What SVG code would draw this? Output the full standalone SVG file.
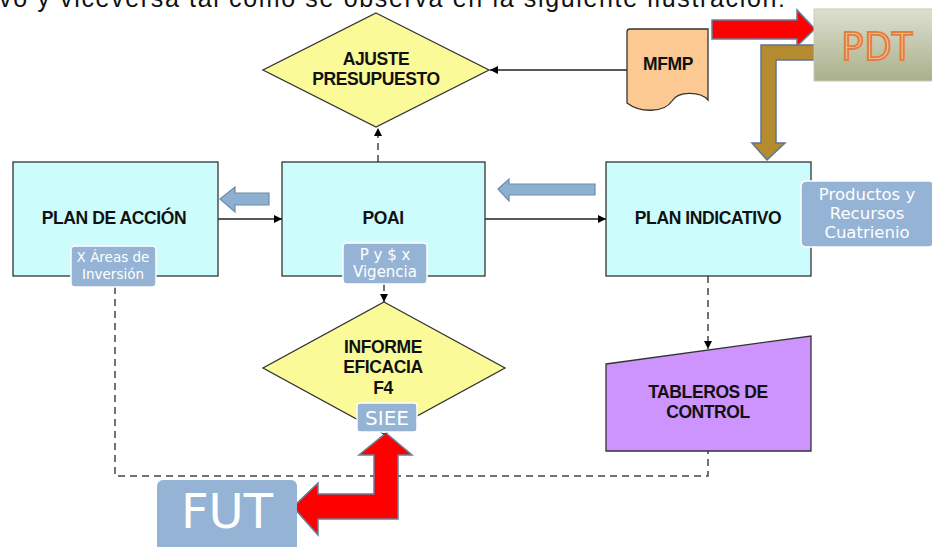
<svg xmlns="http://www.w3.org/2000/svg" width="932" height="547" viewBox="0 0 932 547">
<defs>
<marker id="ah" viewBox="0 0 10 10" refX="10" refY="5" markerWidth="8" markerHeight="8" markerUnits="userSpaceOnUse" orient="auto"><path d="M0,0 L10,5 L0,10 Z" fill="#000"/></marker>
<linearGradient id="pdtg" x1="0" y1="0" x2="0" y2="1"><stop offset="0" stop-color="#dedfd0"/><stop offset="1" stop-color="#a9b08a"/></linearGradient>
</defs>
<style>
.box{fill:#ccfcfc;stroke:#333;stroke-width:1.3}
.dia{fill:#fafa98;stroke:#333;stroke-width:1.3}
.t{font-family:"Liberation Sans",Arial,sans-serif;font-weight:bold;font-size:17.5px;fill:#111;text-anchor:middle;letter-spacing:-0.4px}
.lbl{fill:#95b3d4;stroke:#fff;stroke-width:1.5}
.lt{font-family:"DejaVu Sans","Noto Sans",sans-serif;fill:#fff;text-anchor:middle;font-size:15px}
.lt14{font-size:13.5px}
.lt16{font-size:16.5px}
.lt20{font-size:20px}
.ln{stroke:#222;stroke-width:1.3;fill:none}
.dash{stroke:#444;stroke-width:1.5;fill:none;stroke-dasharray:7,5}
.barrow{fill:#8eb0d0;stroke:#6d8cae;stroke-width:1.2}
</style>
<rect width="932" height="547" fill="#fff"/>
<text x="-1" y="7" font-family="Liberation Sans, Arial, sans-serif" font-size="25" fill="#111" textLength="786" lengthAdjust="spacing">vo y viceversa tal como se observa en la siguiente ilustración:</text>

<g id="connectors">
<line class="ln" x1="627" y1="70" x2="490" y2="70" marker-end="url(#ah)"/>
<line class="dash" x1="378" y1="162" x2="378" y2="128" marker-end="url(#ah)"/>
<line class="ln" x1="218" y1="219" x2="282" y2="219" marker-end="url(#ah)"/>
<line class="ln" x1="485" y1="219" x2="606" y2="219" marker-end="url(#ah)"/>
<line class="dash" x1="384" y1="284" x2="384" y2="302" marker-end="url(#ah)"/>
<line class="dash" x1="708" y1="276" x2="708" y2="349" marker-end="url(#ah)"/>
<polyline class="dash" points="115,287 115,476 708,476 708,451"/>
<path class="barrow" d="M220,199 L235,187 L235,193 L269,193 L269,205 L235,205 L235,212 Z"/>
<path class="barrow" d="M498,189 L509,179 L509,184 L595,184 L595,195 L509,195 L509,201 Z"/>
<path d="M712,20 L797,20 L797,10 L815,29 L797,46 L797,39 L712,39 Z" fill="#ff0000" stroke="#6a7e98" stroke-width="1.5"/>
<path d="M814,45 L761,45 L761,143 L752,143 L767,160 L785,143 L776,143 L776,60 L814,60 Z" fill="#b58b30" stroke="#5f7692" stroke-width="1.5"/>
<path d="M386,433 L412,455 L398,455 L398,519 L318,519 L318,535 L293,507 L318,483 L318,494 L374,494 L374,455 L359,455 Z" fill="#ff0000" stroke="#6a7e98" stroke-width="1.5"/>
</g>

<g id="ajuste">
<polygon class="dia" points="376,13 489,70 376,127 263,70"/>
<text class="t" x="376" y="65">AJUSTE</text>
<text class="t" x="376" y="85">PRESUPUESTO</text>
</g>

<g id="mfmp">
<path d="M630,29 H708 V100 C700,91 678,91 672,101 C664,113 640,113 627,103 V32 Q627,29 630,29 Z" fill="#fcc992" stroke="#333" stroke-width="1.3"/>
<text class="t" x="668" y="70">MFMP</text>
</g>

<g id="pdt">
<rect x="814" y="9" width="130" height="72" fill="url(#pdtg)" stroke="#c8ccb4" stroke-width="1"/>
<text x="877" y="60" font-family="Open Sans, Liberation Sans, sans-serif" font-size="38" fill="#f8c9a8" stroke="#e47e3c" stroke-width="2" text-anchor="middle">PDT</text>
</g>

<g id="plan-accion">
<rect class="box" x="13" y="162" width="205" height="114"/>
<text class="t" x="114" y="224">PLAN DE ACCIÓN</text>
<rect class="lbl" x="71" y="246" width="85" height="41" rx="4"/>
<text class="lt lt14" x="113" y="262">X Áreas de</text>
<text class="lt lt14" x="113" y="279">Inversión</text>
</g>

<g id="poai">
<rect class="box" x="282" y="162" width="203" height="114"/>
<text class="t" x="383" y="224">POAI</text>
<rect class="lbl" x="343" y="243" width="84" height="41" rx="4"/>
<text class="lt" x="385" y="260">P y $ x</text>
<text class="lt" x="385" y="277">Vigencia</text>
</g>

<g id="plan-indicativo">
<rect class="box" x="606" y="162" width="205" height="114"/>
<text class="t" x="708" y="224">PLAN INDICATIVO</text>
<rect class="lbl" x="801" y="181" width="133" height="66" rx="5"/>
<text class="lt lt16" x="867" y="200">Productos y</text>
<text class="lt lt16" x="867" y="219">Recursos</text>
<text class="lt lt16" x="867" y="238">Cuatrienio</text>
</g>

<g id="informe">
<polygon class="dia" points="384,302 505,368 384,434 263,368"/>
<text class="t" x="383" y="353">INFORME</text>
<text class="t" x="383" y="373">EFICACIA</text>
<text class="t" x="383" y="394">F4</text>
<rect class="lbl" x="357" y="403" width="60" height="29" rx="3"/>
<text class="lt lt20" x="387" y="425">SIEE</text>
</g>

<g id="tableros">
<polygon points="606,364 811,336 811,451 606,451" fill="#cc94fc" stroke="#333" stroke-width="1.3"/>
<text class="t" x="708" y="398">TABLEROS DE</text>
<text class="t" x="708" y="418">CONTROL</text>
</g>

<g id="fut">
<rect x="157" y="480" width="140" height="75" rx="6" fill="#95b3d4"/>
<text x="227" y="528" font-family="DejaVu Sans, Noto Sans, sans-serif" font-size="48" fill="#fff" text-anchor="middle">FUT</text>
</g>
</svg>
